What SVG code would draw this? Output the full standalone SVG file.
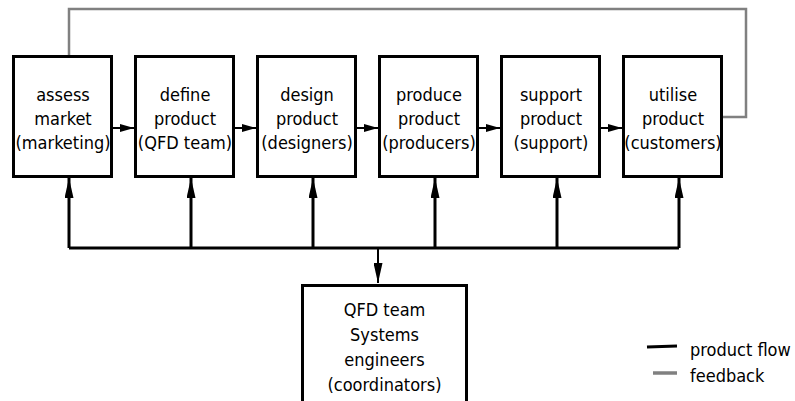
<svg xmlns="http://www.w3.org/2000/svg" width="795" height="401" viewBox="0 0 795 401">
<style>
.box{fill:#fff;stroke:#000;stroke-width:3}
.t{font-family:"DejaVu Sans Condensed","DejaVu Sans",Verdana,sans-serif;font-stretch:condensed;font-size:18px;fill:#000;text-anchor:middle}
.l{font-family:"DejaVu Sans Condensed","DejaVu Sans",Verdana,sans-serif;font-stretch:condensed;font-size:18px;fill:#000}
.flow{stroke:#000;stroke-width:2;fill:none}
.bus{stroke:#000;stroke-width:3;fill:none}
.fb{stroke:#808080;stroke-width:2.5;fill:none}
</style>
<defs>
<marker id="ah" markerUnits="userSpaceOnUse" markerWidth="14" markerHeight="8" refX="14" refY="4" orient="auto"><path d="M0,0 L14,4 L0,8 Z" fill="#000"/></marker>
<marker id="av" markerUnits="userSpaceOnUse" markerWidth="20" markerHeight="9" refX="20" refY="4.5" orient="auto"><path d="M0,0 L20,4.5 L0,9 Z" fill="#000"/></marker>
</defs>
<g id="connectors">
<polyline class="fb" points="69,56 69,9 746,9 746,117 722,117"/>
<line class="flow" x1="112" y1="128" x2="134" y2="128" marker-end="url(#ah)"/>
<line class="flow" x1="234" y1="128" x2="256" y2="128" marker-end="url(#ah)"/>
<line class="flow" x1="356" y1="128" x2="378" y2="128" marker-end="url(#ah)"/>
<line class="flow" x1="478" y1="128" x2="500" y2="128" marker-end="url(#ah)"/>
<line class="flow" x1="600" y1="128" x2="622" y2="128" marker-end="url(#ah)"/>
<polyline class="bus" points="69,248 679,248"/>
<line class="bus" x1="69" y1="248" x2="69" y2="178" marker-end="url(#av)"/>
<line class="bus" x1="191" y1="248" x2="191" y2="178" marker-end="url(#av)"/>
<line class="bus" x1="313" y1="248" x2="313" y2="178" marker-end="url(#av)"/>
<line class="bus" x1="435" y1="248" x2="435" y2="178" marker-end="url(#av)"/>
<line class="bus" x1="557" y1="248" x2="557" y2="178" marker-end="url(#av)"/>
<line class="bus" x1="679" y1="248" x2="679" y2="178" marker-end="url(#av)"/>
<line class="flow" x1="378" y1="248" x2="378" y2="283" marker-end="url(#av)"/>
</g>
<g id="n1"><rect class="box" x="13.5" y="56.5" width="98" height="120"/>
<text class="t" x="63" y="101">assess</text><text class="t" x="63" y="125">market</text><text class="t" x="63" y="149">(marketing)</text></g>
<g id="n2"><rect class="box" x="135.5" y="56.5" width="98" height="120"/>
<text class="t" x="185" y="101">define</text><text class="t" x="185" y="125">product</text><text class="t" x="185" y="149">(QFD team)</text></g>
<g id="n3"><rect class="box" x="257.5" y="56.5" width="98" height="120"/>
<text class="t" x="307" y="101">design</text><text class="t" x="307" y="125">product</text><text class="t" x="307" y="149">(designers)</text></g>
<g id="n4"><rect class="box" x="379.5" y="56.5" width="98" height="120"/>
<text class="t" x="429" y="101">produce</text><text class="t" x="429" y="125">product</text><text class="t" x="429" y="149">(producers)</text></g>
<g id="n5"><rect class="box" x="501.5" y="56.5" width="98" height="120"/>
<text class="t" x="551" y="101">support</text><text class="t" x="551" y="125">product</text><text class="t" x="551" y="149">(support)</text></g>
<g id="n6"><rect class="box" x="623.5" y="56.5" width="98" height="120"/>
<text class="t" x="673" y="101">utilise</text><text class="t" x="673" y="125">product</text><text class="t" x="673" y="149">(customers)</text></g>
<g id="n7"><rect class="box" x="302.5" y="285.5" width="164" height="130"/>
<text class="t" x="384.5" y="316">QFD team</text><text class="t" x="384.5" y="341">Systems</text><text class="t" x="384.5" y="366">engineers</text><text class="t" x="384.5" y="391">(coordinators)</text></g>
<g id="legend">
<line x1="647" y1="347" x2="677" y2="346" stroke="#000" stroke-width="3"/>
<text class="l" x="690" y="356">product flow</text>
<line x1="653" y1="373" x2="677" y2="373" stroke="#808080" stroke-width="3.5"/>
<text class="l" x="690" y="382">feedback</text>
</g>
</svg>
